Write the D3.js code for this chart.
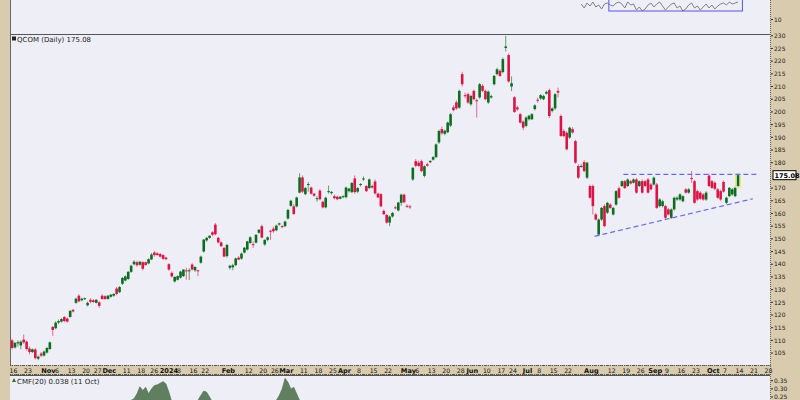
<!DOCTYPE html>
<html><head><meta charset="utf-8">
<script src="https://cdn.jsdelivr.net/npm/d3@7/dist/d3.min.js"></script>
<style>html,body{margin:0;padding:0;background:#d9cbad;} svg{display:block}</style>
</head><body><svg id="c" width="800" height="400"></svg>
<script>
// ---------------- DATA ----------------
const symbolLabel = "QCOM (Daily) 175.08";
const lastClose = 175.08;
const startDate = "2023-10-13";
const holidays = ["2023-11-23","2023-12-25","2024-01-01","2024-01-15","2024-02-19","2024-03-29","2024-05-27","2024-06-19","2024-07-04","2024-09-02"];
// [open, high, low, close] per trading day from 2023-10-13 to 2024-10-11
const candles = [
[110.0,110.6,106.4,107.0],[107.2,109.4,106.8,109.0],[108.8,110.0,107.5,109.3],[108.0,110.0,106.5,109.5],[110.3,112.3,108.6,109.2],
[109.5,110.0,106.0,106.6],[106.8,107.6,104.5,105.4],[105.4,106.8,105.0,106.5],[106.4,107.0,102.5,103.0],[102.8,104.0,102.2,103.6],
[104.8,105.4,103.4,104.0],[104.0,106.0,103.6,105.6],[105.2,107.4,104.8,107.0],[106.6,109.6,106.2,109.2],[115.3,115.6,111.8,114.1],
[114.8,117.5,114.4,117.0],[117.0,118.2,116.4,117.6],[117.4,118.8,117.0,118.4],[119.2,119.6,117.2,117.6],[118.6,119.0,117.0,117.4],
[119.2,122.0,119.0,121.6],[122.0,122.4,121.0,121.4],[124.8,126.8,124.4,126.4],[127.6,128.2,125.0,125.4],[125.8,126.8,125.4,126.4],
[126.3,126.9,125.9,126.6],[123.8,125.3,123.4,124.8],[126.0,126.6,124.6,125.2],[125.8,126.2,124.8,125.1],[124.8,126.2,124.6,126.0],
[125.0,125.4,122.8,123.6],[127.6,128.2,126.0,126.3],[127.4,127.8,126.0,126.3],[126.3,127.9,126.0,127.6],[127.2,128.3,126.8,128.0],
[127.6,128.6,127.2,128.3],[130.4,131.0,127.8,128.3],[129.0,131.4,128.6,131.0],[132.3,135.0,131.8,134.6],[133.6,135.6,133.2,135.2],
[134.2,137.3,133.8,137.0],[137.0,139.8,136.6,139.4],[140.0,141.6,139.6,141.0],[140.8,141.4,139.0,139.6],[139.8,141.3,139.4,141.0],
[140.8,141.2,137.6,138.2],[140.8,141.0,139.4,139.7],[140.3,142.3,140.0,142.0],[141.9,144.4,141.6,143.8],[144.6,145.2,143.0,143.6],
[144.3,144.8,143.4,143.6],[144.0,144.4,142.6,143.0],[143.6,144.0,141.8,142.1],[142.6,143.0,141.6,142.0],[140.0,140.4,137.4,137.9],
[136.6,137.2,134.8,135.2],[133.2,135.2,132.8,135.0],[133.9,135.6,133.6,135.3],[134.7,137.4,134.4,137.1],[135.3,138.0,135.0,137.9],
[137.6,138.6,133.9,137.3],[137.2,138.4,133.8,137.6],[139.9,140.4,137.6,137.9],[137.6,139.2,137.0,138.9],[137.6,137.8,135.3,137.2],
[140.6,143.4,140.2,143.0],[145.0,149.9,144.6,149.7],[149.4,150.8,148.8,150.4],[150.4,151.4,150.0,151.2],[152.6,153.0,151.0,151.6],
[155.6,156.2,151.4,151.8],[150.4,150.8,148.2,148.6],[148.6,149.0,146.8,147.1],[146.4,146.8,142.8,143.0],[143.2,148.0,142.6,147.6],
[138.6,139.8,137.8,139.4],[138.8,140.2,137.6,139.6],[139.6,142.6,139.4,142.3],[142.6,143.2,141.6,141.8],[142.2,144.6,141.8,144.2],
[144.6,146.8,144.2,146.5],[145.8,149.2,145.4,149.0],[148.4,151.0,148.0,150.6],[147.9,149.0,146.4,147.6],[148.5,151.8,148.2,151.6],
[152.4,153.8,152.0,153.6],[155.0,155.6,150.2,150.5],[147.8,149.8,147.2,149.6],[149.6,151.0,149.0,150.6],[153.2,153.6,149.6,153.0],
[154.0,154.8,152.4,153.0],[153.4,155.6,153.0,155.2],[155.6,156.4,155.2,156.1],[155.0,155.4,154.2,154.6],[155.0,157.2,154.6,156.8],
[158.0,161.8,157.6,161.4],[163.0,165.4,162.6,165.0],[162.8,163.6,159.4,159.8],[162.8,166.6,162.4,166.3],[168.2,175.8,168.0,174.2],
[174.2,175.0,168.0,168.6],[167.6,170.4,167.2,170.0],[171.4,172.4,168.6,171.6],[170.2,170.6,167.4,167.8],[167.8,168.0,166.6,167.0],
[165.8,166.8,164.6,166.0],[169.0,169.6,165.2,165.6],[164.6,165.0,162.0,162.4],[162.4,166.6,162.0,166.2],[168.6,171.0,167.8,168.8],
[168.0,168.8,167.4,168.5],[166.8,167.4,165.6,166.0],[166.6,167.0,165.2,165.6],[165.8,166.8,165.6,166.6],[166.4,167.2,166.0,166.8],
[166.4,170.6,166.0,170.2],[168.8,170.0,168.2,169.8],[168.4,172.4,168.0,172.0],[173.8,175.0,167.8,168.4],[168.6,170.4,168.0,170.0],
[171.2,172.0,170.6,171.6],[173.4,174.6,172.8,173.8],[170.8,171.2,168.4,168.8],[170.0,173.8,169.6,173.4],[170.8,171.4,169.8,170.2],
[172.6,173.4,167.4,167.9],[167.8,168.2,166.0,166.3],[167.6,168.0,162.4,162.8],[161.0,161.6,159.4,159.7],[159.4,159.8,156.0,156.4],
[156.4,159.2,155.0,158.8],[158.8,160.6,158.4,160.2],[162.4,163.0,161.6,162.1],[161.2,164.6,160.8,164.3],[164.2,167.8,163.0,167.4],
[167.4,167.8,164.0,164.4],[163.0,163.6,162.2,162.6],[162.8,163.4,161.8,162.4],[173.4,178.2,172.8,178.0],[180.6,181.4,178.2,178.8],
[180.0,180.8,178.4,178.7],[180.6,181.2,176.2,176.7],[174.8,179.0,174.2,178.6],[179.4,180.0,178.4,178.8],[180.2,181.0,179.8,180.7],
[181.2,182.6,180.8,182.2],[182.2,187.6,181.8,187.2],[188.0,193.0,187.4,192.5],[193.2,194.2,191.0,191.6],[191.4,193.0,190.8,192.6],
[192.0,196.2,191.6,195.8],[194.6,199.6,194.0,199.1],[201.8,202.6,200.2,200.7],[203.8,204.6,200.8,201.4],[201.7,208.8,201.2,208.3],
[214.9,215.8,210.0,210.9],[206.6,207.6,205.4,206.2],[207.0,207.6,203.2,203.7],[203.0,206.8,202.4,206.3],[208.3,208.8,204.6,205.0],
[204.6,205.2,197.8,204.2],[205.7,211.4,205.2,210.9],[210.3,211.0,207.8,208.3],[208.3,208.8,204.6,205.0],[203.7,208.4,203.2,208.0],
[205.7,206.8,205.2,206.2],[210.9,214.6,210.4,214.2],[214.9,217.4,214.4,216.8],[216.2,216.8,213.8,214.2],[215.7,221.4,215.2,220.8],
[225.2,230.0,223.8,225.8],[222.4,223.0,211.5,212.0],[210.0,214.0,208.2,211.3],[205.8,206.2,199.6,200.0],[201.8,202.4,200.4,201.0],
[199.1,199.6,195.4,195.8],[196.2,196.6,192.8,193.8],[194.5,198.2,194.0,197.8],[197.1,198.9,196.6,198.5],[197.1,199.6,196.8,199.1],
[201.1,203.0,200.6,202.6],[204.8,205.6,203.6,204.4],[205.3,207.0,204.8,206.6],[205.0,206.8,204.6,206.3],[207.2,208.4,206.8,207.9],
[208.6,209.2,197.6,198.4],[200.4,201.8,199.8,201.4],[201.4,207.4,200.8,207.0],[208.3,209.6,205.7,207.6],[198.4,199.0,190.2,190.5],
[192.5,193.2,190.0,190.5],[191.8,192.4,184.8,185.3],[189.9,194.2,189.4,193.8],[193.2,194.0,191.4,191.9],[188.5,189.0,179.6,180.0],
[178.7,179.4,173.6,174.1],[178.4,179.4,178.0,178.7],[180.2,181.0,176.2,176.7],[174.1,180.4,173.6,180.0],[170.8,171.4,165.8,166.2],
[170.8,171.4,159.6,162.9],[159.6,160.2,157.2,157.6],[151.7,158.0,151.0,157.6],[157.6,162.6,157.0,162.2],[162.9,163.6,154.6,155.0],
[160.3,164.6,159.8,164.2],[163.5,164.0,161.8,162.2],[159.6,162.6,159.2,162.2],[163.5,169.2,163.0,168.8],[169.9,170.6,165.8,166.2],
[170.8,173.0,170.4,172.7],[172.7,173.2,169.6,170.0],[170.8,173.8,170.4,173.4],[172.7,173.2,171.4,171.8],[172.1,173.8,171.8,173.4],
[173.4,174.0,167.8,168.2],[170.8,173.0,170.4,172.7],[172.7,173.4,167.8,168.2],[172.7,173.2,170.4,170.8],[173.4,174.0,167.8,168.2],
[171.4,172.0,169.0,169.5],[171.4,174.6,171.0,174.1],[171.4,172.0,161.8,162.2],[162.9,166.0,162.4,165.5],[162.9,165.4,162.4,164.8],
[162.9,163.4,157.8,158.3],[161.6,162.2,159.2,159.6],[158.3,162.0,157.8,161.6],[161.6,166.6,161.2,166.2],[165.5,166.8,165.0,166.2],
[165.5,168.0,165.0,167.5],[164.8,167.2,164.4,166.8],[169.5,170.0,167.8,168.2],[168.2,170.0,167.8,169.5],[174.0,176.7,172.1,173.6],
[172.7,173.2,163.8,164.2],[168.8,169.4,165.0,165.5],[168.2,168.8,165.4,165.8],[167.5,168.0,165.0,165.5],[165.5,168.8,165.0,168.2],
[174.9,175.6,170.4,170.8],[172.7,173.2,169.6,170.1],[172.1,172.6,169.2,169.7],[169.5,170.0,165.8,166.2],[168.8,169.4,165.0,165.5],
[172.4,173.0,168.2,168.6],[164.2,166.6,163.6,166.2],[166.8,170.4,166.4,170.1],[167.5,170.0,167.0,169.5],[166.8,170.6,166.4,170.1],
[170.8,175.7,170.4,175.08]
];
// Chaikin Money Flow (20) per trading day (only tops above ~0.23 are visible)
const cmf = [
0.05,0.06,0.04,0.05,0.07,0.06,0.05,0.04,0.03,0.05,0.06,0.08,0.10,0.12,0.15,0.16,0.17,0.18,0.17,0.18,
0.19,0.19,0.20,0.21,0.20,0.19,0.18,0.19,0.18,0.19,0.18,0.19,0.20,0.21,0.20,0.21,0.21,0.22,0.22,0.23,
0.22,0.23,0.24,0.27,0.313,0.29,0.31,0.27,0.30,0.32,0.325,0.335,0.345,0.33,0.28,0.22,0.18,0.15,0.14,0.15,
0.16,0.17,0.18,0.20,0.23,0.26,0.287,0.28,0.25,0.22,0.20,0.17,0.15,0.13,0.12,0.10,0.11,0.12,0.14,0.16,
0.17,0.18,0.17,0.18,0.19,0.20,0.18,0.19,0.20,0.21,0.22,0.23,0.26,0.30,0.365,0.34,0.30,0.31,0.27,0.23,
0.20,0.18,0.16,0.15,0.14,0.12,0.10,0.11,0.10,0.09,0.08,0.07,0.08,0.09,0.10,0.11,0.10,0.09,0.08,0.06,
0.05,0.04,0.03,0.02,0.01,0.00,-0.02,-0.03,-0.05,-0.06,-0.05,-0.04,-0.03,-0.02,-0.03,-0.02,0.05,0.08,0.09,0.10,
0.11,0.12,0.13,0.14,0.15,0.16,0.17,0.18,0.19,0.20,0.18,0.17,0.18,0.16,0.15,0.14,0.13,0.12,0.14,0.15,
0.16,0.17,0.18,0.16,0.10,0.08,0.06,0.05,0.04,0.03,0.04,0.05,0.06,0.07,0.08,0.09,0.05,0.02,0.00,-0.03,
-0.05,-0.08,-0.10,-0.12,-0.15,-0.16,-0.18,-0.17,-0.16,-0.15,-0.18,-0.20,-0.19,-0.17,-0.15,-0.13,-0.12,-0.10,-0.08,-0.06,
-0.05,-0.04,-0.03,-0.04,-0.05,-0.04,-0.03,-0.02,-0.03,-0.01,-0.02,-0.03,-0.02,-0.01,0.00,0.01,0.02,0.03,0.02,0.01,
0.02,0.03,0.04,0.03,0.02,0.03,0.04,0.03,0.02,0.03,0.038
];
const cmfLabel = "CMF(20) 0.038 (11 Oct)";
const priceTicks = [105,110,115,120,125,130,135,140,145,150,155,160,165,170,180,185,190,195,200,205,210,215,220,225,230];
const cmfTicks = [0.35,0.30,0.25];
// trend lines: [trading-day index, price]
const upperLine = [[210.5,175.4],[257,175.4]];
const lowerLine = [[200.6,151.0],[255.1,165.8]];
// x-axis labels: [text, date, isMonth]
const xLabels = [
["16","2023-10-16",0],["23","2023-10-23",0],["Nov","2023-11-01",1],["6","2023-11-06",0],["13","2023-11-13",0],["20","2023-11-20",0],["27","2023-11-27",0],
["Dec","2023-12-01",1],["11","2023-12-11",0],["18","2023-12-18",0],["26","2023-12-26",0],["2024","2024-01-02",1],["8","2024-01-08",0],["16","2024-01-16",0],["22","2024-01-22",0],
["Feb","2024-02-01",1],["12","2024-02-12",0],["20","2024-02-20",0],["26","2024-02-26",0],["Mar","2024-03-01",1],["11","2024-03-11",0],["18","2024-03-18",0],["25","2024-03-25",0],
["Apr","2024-04-01",1],["8","2024-04-08",0],["15","2024-04-15",0],["22","2024-04-22",0],["May","2024-05-01",1],["6","2024-05-06",0],["13","2024-05-13",0],["20","2024-05-20",0],["28","2024-05-28",0],
["Jun","2024-06-03",1],["10","2024-06-10",0],["17","2024-06-17",0],["24","2024-06-24",0],["Jul","2024-07-01",1],["8","2024-07-08",0],["15","2024-07-15",0],["22","2024-07-22",0],
["Aug","2024-08-01",1],["12","2024-08-12",0],["19","2024-08-19",0],["26","2024-08-26",0],["Sep","2024-09-03",1],["9","2024-09-09",0],["16","2024-09-16",0],["23","2024-09-23",0],
["Oct","2024-10-01",1],["7","2024-10-07",0],["14","2024-10-14",0],["21","2024-10-21",0],["28","2024-10-28",0]
];
// upper indicator panel (only its bottom edge is visible)
const topLine = [[196,4],[197,8],[198,3],[199,6],[200,2],[201,7],[202,5],[203,9],[204,4],[205,3],[206,5],[207,6],[208,3],[209,2],[210,4],[211,8],[212,2],[213,5],[214,4],[215,10],[216,7],[217,11],[218,9],[219,5],[220,3],[221,7],[222,4],[223,2],[224,6],[225,10],[226,7],[227,4],[228,3],[229,8],[230,6],[231,11],[232,9],[233,5],[234,3],[235,8],[236,6],[237,10],[238,7],[239,4],[240,8],[241,5],[242,9],[243,6],[244,4],[245,3],[246,5],[247,2],[248,4],[249,3],[250,2]];

// ---------------- LAYOUT ----------------
const svg = d3.select("#c");
const L = 10, R = 770;
const mainTop = 34, mainBot = 365;
const axisTop = 365, axisBot = 375;
const cmfTop = 375;
const topPanelBot = 34;

// trading calendar
const hol = new Set(holidays);
const dates = [];
{
  let d = new Date(startDate + "T00:00:00Z");
  while (dates.length < 266) {
    const w = d.getUTCDay();
    const s = d.toISOString().slice(0,10);
    if (w !== 0 && w !== 6 && !hol.has(s)) dates.push(s);
    d.setUTCDate(d.getUTCDate() + 1);
  }
}
const dIdx = new Map(dates.map((s,i)=>[s,i]));

const x = d3.scaleLinear().domain([-0.72, 261.0]).range([L, R]);
const y = d3.scaleLinear().domain([100.3, 230.7]).range([mainBot, mainTop]);
const yc = d3.scaleLinear().domain([0.232, 0.385]).range([400, cmfTop]);

const panelBg = "#eeeef6";
const font = "DejaVu Sans, Verdana, sans-serif";

// top panel
svg.append("rect").attr("x", L).attr("y", 0).attr("width", R-L).attr("height", topPanelBot).attr("fill", panelBg);
const topY = d3.scaleLinear().domain([0,12]).range([0,12]);
svg.append("path").datum(topLine)
  .attr("d", d3.line().x(d=>x(d[0])).y(d=>topY(d[1])))
  .attr("fill","none").attr("stroke","#808080").attr("stroke-width",1);
svg.append("rect").attr("x", x(205.5)).attr("y", -2).attr("width", x(251.5)-x(205.5)).attr("height", 13)
  .attr("fill","none").attr("stroke","#5555ee").attr("stroke-width",1);
svg.append("line").attr("x1",R+1).attr("x2",R+3).attr("y1",19.5).attr("y2",19.5).attr("stroke","#333");
svg.append("text").attr("x",R+4).attr("y",21.5).text("10").attr("font-family",font).attr("font-size",6).attr("fill","#222");

// main panel
svg.append("rect").attr("x", L).attr("y", mainTop).attr("width", R-L).attr("height", mainBot-mainTop).attr("fill", panelBg);

const clip = svg.append("defs").append("clipPath").attr("id","mc").append("rect")
  .attr("x",L).attr("y",mainTop).attr("width",R-L).attr("height",mainBot-mainTop);
const g = svg.append("g").attr("clip-path","url(#mc)");

const up = "#0b6e1e", down = "#dc1446";
const upW = "#5f9f6c", downW = "#e66a8a";
const bw = 2.6;
const cg = g.selectAll("g.c").data(candles).enter().append("g");
cg.append("line")
  .attr("x1",(d,i)=>x(i)).attr("x2",(d,i)=>x(i))
  .attr("y1",d=>y(d[1])).attr("y2",d=>y(d[2]))
  .attr("stroke",d=>d[3]>=d[0]?upW:downW).attr("stroke-width",1);
cg.append("rect")
  .attr("x",(d,i)=>x(i)-bw/2).attr("width",bw)
  .attr("y",d=>y(Math.max(d[0],d[3])))
  .attr("height",d=>Math.max(1,Math.abs(y(d[0])-y(d[3]))))
  .attr("fill",d=>d[3]>=d[0]?up:down);

// highlight last candle
const li = candles.length-1, lc = candles[li];
g.append("rect").attr("x",x(li)-bw/2-1).attr("width",bw+2)
  .attr("y",y(lc[3])-1).attr("height",y(lc[0])-y(lc[3])+2)
  .attr("fill","none").attr("stroke","#e8e84a").attr("stroke-width",1);

// trend lines
[upperLine, lowerLine].forEach(l=>{
  g.append("line").attr("x1",x(l[0][0])).attr("y1",y(l[0][1])).attr("x2",x(l[1][0])).attr("y2",y(l[1][1]))
   .attr("stroke","#6a6aff").attr("stroke-width",1.2).attr("stroke-dasharray","5,3");
});

// panel borders
svg.append("line").attr("x1",L).attr("x2",R).attr("y1",mainTop+0.5).attr("y2",mainTop+0.5).attr("stroke","#555").attr("stroke-width",1);
svg.append("line").attr("x1",L+0.5).attr("x2",L+0.5).attr("y1",0).attr("y2",400).attr("stroke","#666").attr("stroke-width",1);
svg.append("line").attr("x1",R+0.5).attr("x2",R+0.5).attr("y1",0).attr("y2",400).attr("stroke","#666").attr("stroke-width",1).attr("stroke-dasharray","1,1");

// title
svg.append("rect").attr("x",12).attr("y",36.5).attr("width",4).attr("height",4).attr("fill","#222");
svg.append("text").attr("x",17).attr("y",41.5).text(symbolLabel).attr("font-family",font).attr("font-size",7).attr("fill","#222");

// right price axis
const ra = svg.append("g");
priceTicks.forEach(t=>{
  ra.append("line").attr("x1",R+1).attr("x2",R+3).attr("y1",y(t)).attr("y2",y(t)).attr("stroke","#333");
  ra.append("text").attr("x",R+4).attr("y",y(t)+2.2).text(t).attr("font-family",font).attr("font-size",6).attr("fill","#222");
});
ra.append("rect").attr("x",R+3).attr("y",y(lastClose)-4.5).attr("width",23).attr("height",9)
  .attr("fill","#fff").attr("stroke","#000").attr("stroke-width",1);
ra.append("text").attr("x",R+4.5).attr("y",y(lastClose)+2.4).text(lastClose.toFixed(2))
  .attr("font-family",font).attr("font-size",6.5).attr("font-weight","bold").attr("fill","#000");

// x axis strip
svg.append("rect").attr("x",L).attr("y",axisTop).attr("width",R-L).attr("height",axisBot-axisTop).attr("fill","#d9cbad");
const ticksG = svg.append("g");
for (let i=0;i<=261;i++){
  ticksG.append("rect").attr("x",x(i)-0.5).attr("y",axisTop).attr("width",1).attr("height",1).attr("fill","#444");
  ticksG.append("rect").attr("x",x(i)-0.5).attr("y",axisBot-1).attr("width",1).attr("height",1).attr("fill","#444");
}
svg.append("line").attr("x1",L).attr("x2",R).attr("y1",axisTop+0.5).attr("y2",axisTop+0.5).attr("stroke","#555").attr("stroke-dasharray","1,1");
svg.append("line").attr("x1",L).attr("x2",R).attr("y1",axisBot-0.5).attr("y2",axisBot-0.5).attr("stroke","#555").attr("stroke-dasharray","1,1");
const labelNudge = {"2023-12-26":-1.5, "2024-01-02":1.5};
xLabels.forEach(([t,dt,m])=>{
  const i = dIdx.get(dt);
  svg.append("text").attr("x",x(i)-1.5+(labelNudge[dt]||0)).attr("y",372.5).attr("text-anchor","middle").text(t)
    .attr("font-family",font).attr("font-size",m?6.6:6.2).attr("font-weight",m?"bold":"normal").attr("fill","#111");
});

// CMF panel
svg.append("rect").attr("x",L).attr("y",cmfTop).attr("width",R-L).attr("height",400-cmfTop).attr("fill",panelBg);
const cclip = svg.append("defs").append("clipPath").attr("id","cc").append("rect")
  .attr("x",L).attr("y",cmfTop).attr("width",R-L).attr("height",400-cmfTop);
svg.append("g").attr("clip-path","url(#cc)").append("path").datum(cmf)
  .attr("d", d3.area().x((d,i)=>x(i)).y0(yc(0)).y1(d=>yc(d)))
  .attr("fill","#5f7f5f").attr("stroke","#4f6f4f").attr("stroke-width",0.6);
svg.append("line").attr("x1",L).attr("x2",R).attr("y1",cmfTop+0.5).attr("y2",cmfTop+0.5).attr("stroke","#555");
svg.append("path").attr("d","M12,382 l2,-4 l2,4 z").attr("fill","#2e6e2e");
svg.append("text").attr("x",17).attr("y",383.5).text(cmfLabel).attr("font-family",font).attr("font-size",7).attr("fill","#222");
cmfTicks.forEach(t=>{
  svg.append("line").attr("x1",R+1).attr("x2",R+3).attr("y1",yc(t)).attr("y2",yc(t)).attr("stroke","#333");
  svg.append("text").attr("x",R+4).attr("y",yc(t)+2.2).text(t.toFixed(2)).attr("font-family",font).attr("font-size",6).attr("fill","#222");
});
</script></body></html>
